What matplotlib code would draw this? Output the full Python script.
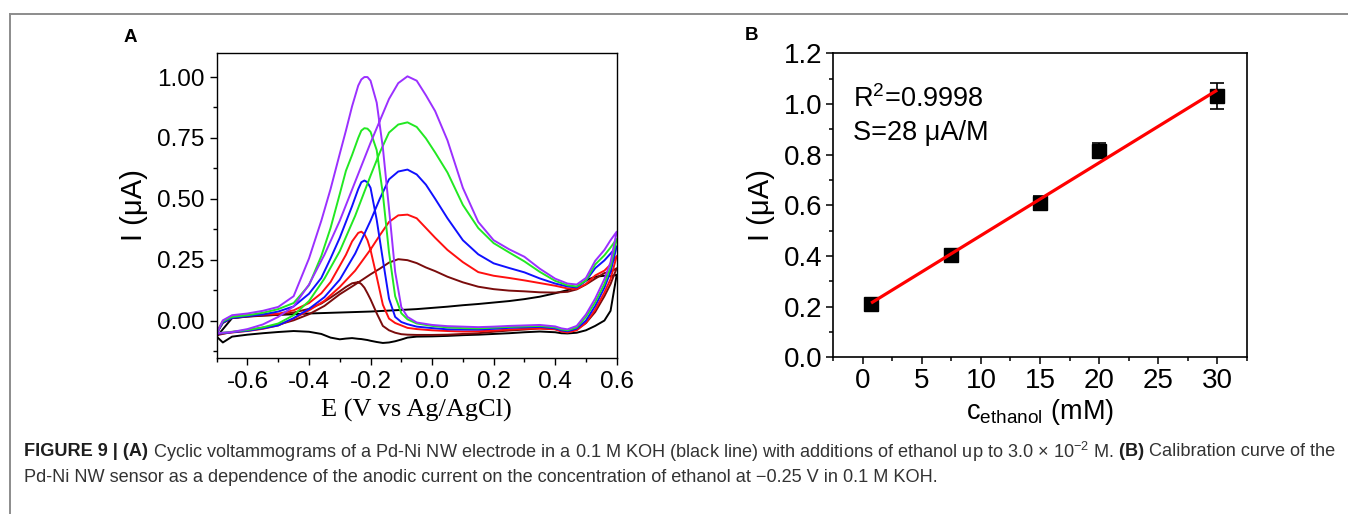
import numpy as np
import matplotlib
matplotlib.use('Agg')
import matplotlib.pyplot as plt
from matplotlib.ticker import MultipleLocator, FormatStrFormatter
from matplotlib.lines import Line2D

plt.rcParams['font.family'] = ['Liberation Sans', 'DejaVu Sans']
plt.rcParams['axes.unicode_minus'] = False
plt.rcParams['mathtext.fontset'] = 'custom'
plt.rcParams['mathtext.rm'] = 'Liberation Sans'
plt.rcParams['mathtext.it'] = 'Liberation Sans:italic'
plt.rcParams['mathtext.bf'] = 'Liberation Sans:bold'

# ---------------- Panel A data (cyclic voltammograms) ----------------
E_fwd = [-0.70, -0.65, -0.60, -0.55, -0.50, -0.45, -0.40, -0.35, -0.30, -0.25,
         -0.20, -0.17, -0.14, -0.11, -0.08, -0.05, -0.02, 0.01, 0.05, 0.10,
         0.15, 0.20, 0.25, 0.30, 0.35, 0.40, 0.44, 0.47, 0.50, 0.53,
         0.56, 0.58, 0.60]
E_rev = [0.60, 0.58, 0.56, 0.53, 0.50, 0.47, 0.44, 0.42, 0.40, 0.35,
         0.30, 0.25, 0.20, 0.15, 0.10, 0.05, 0.00, -0.05, -0.08, -0.10,
         -0.12, -0.14, -0.16, -0.18, -0.20, -0.21, -0.22, -0.23, -0.24, -0.26,
         -0.28, -0.30, -0.33, -0.36, -0.40, -0.45, -0.50, -0.55, -0.60, -0.65,
         -0.68, -0.70]

I_fwd_black = [-0.066, 0.010, 0.017, 0.021, 0.023, 0.026, 0.029, 0.031, 0.033, 0.035,
               0.037, 0.039, 0.041, 0.043, 0.045, 0.047, 0.050, 0.053, 0.057, 0.063,
               0.068, 0.074, 0.080, 0.088, 0.098, 0.112, 0.125, 0.138, 0.165, 0.180,
               0.184, 0.182, 0.188]
I_rev_black = [0.188, 0.040, 0.000, -0.022, -0.040, -0.050, -0.053, -0.052, -0.048, -0.045,
               -0.048, -0.052, -0.055, -0.058, -0.060, -0.063, -0.065, -0.066, -0.070, -0.078,
               -0.085, -0.090, -0.092, -0.088, -0.083, -0.080, -0.078, -0.076, -0.075, -0.072,
               -0.074, -0.077, -0.070, -0.055, -0.046, -0.043, -0.047, -0.052, -0.058, -0.066,
               -0.090, -0.066]

I_fwd_maroon = [-0.060, -0.047, -0.040, -0.029, -0.017, 0.001, 0.026, 0.060, 0.108, 0.148,
                0.190, 0.213, 0.238, 0.252, 0.248, 0.236, 0.218, 0.203, 0.180, 0.157,
                0.139, 0.129, 0.123, 0.120, 0.116, 0.115, 0.118, 0.128, 0.148, 0.172,
                0.195, 0.200, 0.215]
I_rev_maroon = [0.215, 0.150, 0.100, 0.035, -0.010, -0.036, -0.045, -0.042, -0.035, -0.032,
                -0.037, -0.041, -0.046, -0.052, -0.055, -0.058, -0.059, -0.059, -0.058, -0.056,
                -0.050, -0.040, -0.022, 0.030, 0.087, 0.112, 0.135, 0.150, 0.158, 0.153,
                0.138, 0.120, 0.094, 0.070, 0.048, 0.033, 0.024, 0.020, 0.016, 0.010,
                -0.010, -0.052]

I_fwd_red = [-0.055, -0.049, -0.043, -0.034, -0.020, 0.008, 0.042, 0.081, 0.138, 0.205,
             0.292, 0.350, 0.405, 0.432, 0.435, 0.420, 0.380, 0.340, 0.290, 0.240,
             0.199, 0.184, 0.175, 0.165, 0.154, 0.143, 0.132, 0.130, 0.150, 0.185,
             0.205, 0.230, 0.265]
I_rev_red = [0.265, 0.170, 0.115, 0.045, -0.010, -0.040, -0.049, -0.045, -0.036, -0.033,
             -0.034, -0.037, -0.041, -0.044, -0.045, -0.043, -0.040, -0.035, -0.030, -0.020,
             -0.010, 0.008, 0.065, 0.180, 0.290, 0.330, 0.355, 0.365, 0.360, 0.325,
             0.270, 0.225, 0.158, 0.112, 0.072, 0.042, 0.028, 0.025, 0.022, 0.016,
             -0.002, -0.048]

I_fwd_blue = [-0.055, -0.048, -0.042, -0.032, -0.020, 0.010, 0.048, 0.096, 0.168, 0.275,
              0.410, 0.500, 0.580, 0.612, 0.620, 0.600, 0.558, 0.500, 0.420, 0.330,
              0.272, 0.235, 0.216, 0.198, 0.173, 0.152, 0.140, 0.136, 0.163, 0.215,
              0.247, 0.275, 0.305]
I_rev_blue = [0.305, 0.200, 0.135, 0.060, 0.000, -0.033, -0.044, -0.040, -0.032, -0.026,
              -0.028, -0.030, -0.034, -0.037, -0.037, -0.036, -0.031, -0.025, -0.015, -0.006,
              0.015, 0.090, 0.250, 0.414, 0.545, 0.568, 0.575, 0.568, 0.540, 0.470,
              0.405, 0.340, 0.255, 0.175, 0.110, 0.058, 0.037, 0.025, 0.018, 0.011,
              -0.008, -0.052]

I_fwd_green = [-0.052, -0.046, -0.039, -0.028, -0.012, 0.022, 0.080, 0.172, 0.285, 0.430,
               0.595, 0.690, 0.772, 0.805, 0.814, 0.795, 0.748, 0.690, 0.608, 0.475,
               0.380, 0.318, 0.280, 0.243, 0.200, 0.163, 0.145, 0.140, 0.165, 0.230,
               0.268, 0.300, 0.335]
I_rev_green = [0.335, 0.220, 0.150, 0.075, 0.015, -0.028, -0.040, -0.036, -0.028, -0.022,
               -0.024, -0.026, -0.029, -0.032, -0.031, -0.028, -0.022, -0.012, 0.005, 0.030,
               0.100, 0.280, 0.520, 0.700, 0.775, 0.788, 0.790, 0.780, 0.750, 0.680,
               0.615, 0.520, 0.380, 0.265, 0.145, 0.072, 0.047, 0.032, 0.022, 0.015,
               -0.003, -0.050]

I_fwd_purple = [-0.052, -0.047, -0.035, -0.016, 0.015, 0.058, 0.148, 0.270, 0.410, 0.570,
                0.730, 0.820, 0.910, 0.975, 1.003, 0.985, 0.925, 0.860, 0.740, 0.545,
                0.405, 0.330, 0.293, 0.262, 0.213, 0.172, 0.152, 0.148, 0.175, 0.245,
                0.290, 0.330, 0.365]
I_rev_purple = [0.365, 0.240, 0.170, 0.090, 0.025, -0.022, -0.036, -0.032, -0.024, -0.018,
                -0.020, -0.022, -0.025, -0.027, -0.025, -0.023, -0.018, -0.008, 0.015, 0.055,
                0.200, 0.460, 0.710, 0.895, 0.985, 1.000, 1.000, 0.990, 0.965, 0.880,
                0.780, 0.685, 0.540, 0.410, 0.255, 0.100, 0.056, 0.040, 0.029, 0.022,
                0.001, -0.052]

cv_series = [
    ('#000000', I_fwd_black, I_rev_black),
    ('#7a0c0c', I_fwd_maroon, I_rev_maroon),
    ('#ff1010', I_fwd_red, I_rev_red),
    ('#1010ff', I_fwd_blue, I_rev_blue),
    ('#22e822', I_fwd_green, I_rev_green),
    ('#9b30ff', I_fwd_purple, I_rev_purple),
]

# ---------------- Panel B data (calibration) ----------------
conc_mM = [0.7, 7.5, 15.0, 20.0, 30.0]
current_uA = [0.210, 0.404, 0.608, 0.816, 1.032]
current_err = [0.012, 0.025, 0.028, 0.030, 0.051]
r2_text = 'R$^{\\mathregular{2}}$=0.9998'
s_text = 'S=28 \u03bcA/M'

W, H = 1348, 514
fig = plt.figure(figsize=(W / 100, H / 100), dpi=100)


def fx(px):
    return px / W


def fy(py):
    return 1 - py / H


# ---------------- Panel A ----------------
axA = fig.add_axes([fx(216.7), fy(358.3), (616.7 - 216.7) / W, (358.3 - 52.7) / H])
for color, fwd, rev in cv_series:
    axA.plot(list(E_fwd) + list(E_rev), list(fwd) + list(rev), color=color, lw=1.4,
             solid_joinstyle='round')
axA.set_xlim(-0.7, 0.6)
axA.set_ylim(-0.155, 1.10)
axA.xaxis.set_major_locator(MultipleLocator(0.2))
axA.xaxis.set_minor_locator(MultipleLocator(0.1))
axA.yaxis.set_major_locator(MultipleLocator(0.25))
axA.yaxis.set_minor_locator(MultipleLocator(0.125))
axA.xaxis.set_major_formatter(FormatStrFormatter('%.1f'))
axA.yaxis.set_major_formatter(FormatStrFormatter('%.2f'))
axA.tick_params(which='major', direction='out', length=5, width=1, labelsize=17.5, pad=4)
axA.tick_params(which='minor', direction='out', length=3, width=1)
for s in axA.spines.values():
    s.set_linewidth(1.0)
axA.set_xlabel('E (V vs Ag/AgCl)', family=['Liberation Serif', 'DejaVu Serif'], fontsize=19, labelpad=4.5)
axA.set_ylabel('I (\u03bcA)', fontsize=21, labelpad=6)
fig.text(fx(130), fy(37), 'A', fontsize=13.5, fontweight='bold', ha='center', va='center')

# ---------------- Panel B ----------------
axB = fig.add_axes([fx(833.3), fy(357.3), (1246.7 - 833.3) / W, (357.3 - 53.3) / H])
slope, intercept = np.polyfit(conc_mM, current_uA, 1)
xfit = np.array([min(conc_mM), max(conc_mM)])
axB.plot(xfit, slope * xfit + intercept, color='#ff0000', lw=2.3, zorder=3, solid_capstyle='butt')
axB.errorbar(conc_mM, current_uA, yerr=current_err, fmt='s', color='black', ms=10,
             capsize=5, elinewidth=1.2, capthick=1.2, zorder=2)
axB.set_xlim(-2.5, 32.5)
axB.set_ylim(0, 1.2)
axB.xaxis.set_major_locator(MultipleLocator(5))
axB.xaxis.set_minor_locator(MultipleLocator(2.5))
axB.yaxis.set_major_locator(MultipleLocator(0.2))
axB.yaxis.set_minor_locator(MultipleLocator(0.1))
axB.yaxis.set_major_formatter(FormatStrFormatter('%.1f'))
axB.tick_params(which='major', direction='out', length=5, width=1.1, labelsize=20, pad=3)
axB.tick_params(which='minor', direction='out', length=3, width=1.1)
for s in axB.spines.values():
    s.set_linewidth(1.2)
axB.set_xlabel('c$_{\\mathregular{ethanol}}$ (mM)', fontsize=19.5, labelpad=2)
axB.set_ylabel('I (\u03bcA)', fontsize=21, labelpad=6)
axB.text(fx(853), fy(107), r2_text, transform=fig.transFigure, fontsize=19.5, ha='left', va='baseline')
axB.text(fx(853), fy(140), s_text, transform=fig.transFigure, fontsize=19.5, ha='left', va='baseline')
fig.text(fx(751), fy(36), 'B', fontsize=13.5, fontweight='bold', ha='center', va='center')

# ---------------- Frame lines ----------------
fig.add_artist(Line2D([fx(9.5), 1.0], [fy(13.5), fy(13.5)], transform=fig.transFigure,
                      color='#8c8c8c', lw=1.4))
fig.add_artist(Line2D([fx(9.5), fx(9.5)], [fy(13.5), 0.0], transform=fig.transFigure,
                      color='#8c8c8c', lw=1.4))

# ---------------- Caption ----------------
line1 = [('FIGURE 9 | (A)', True),
         (' Cyclic voltammograms of a Pd-Ni NW electrode in a 0.1 M KOH (black line) with additions of ethanol up to 3.0 \u00d7 10$^{\\mathregular{\u22122}}$ M.', False),
         (' (B)', True),
         (' Calibration curve of the', False)]
line2 = [('Pd-Ni NW sensor as a dependence of the anodic current on the concentration of ethanol at \u22120.25 V in 0.1 M KOH.', False)]

renderer = fig.canvas.get_renderer()


def draw_caption_line(segs, x0, y, size, draw=True):
    x = x0
    arts = []
    for txt, bold in segs:
        t = fig.text(fx(x), fy(y), txt, fontsize=size,
                     fontweight='bold' if bold else 'normal',
                     color='#1e1e1e' if bold else '#333333', ha='left', va='center')
        bb = t.get_window_extent(renderer)
        x += bb.width
        arts.append(t)
    if not draw:
        for a in arts:
            a.remove()
    return x - x0


base_size = 12.0
wtest = draw_caption_line(line1, 24, 452, base_size, draw=False)
cap_size = base_size * (1312.0 / wtest)
draw_caption_line(line1, 24, 452, cap_size)
draw_caption_line(line2, 24, 478, cap_size)

fig.savefig('out.png', dpi=100)
